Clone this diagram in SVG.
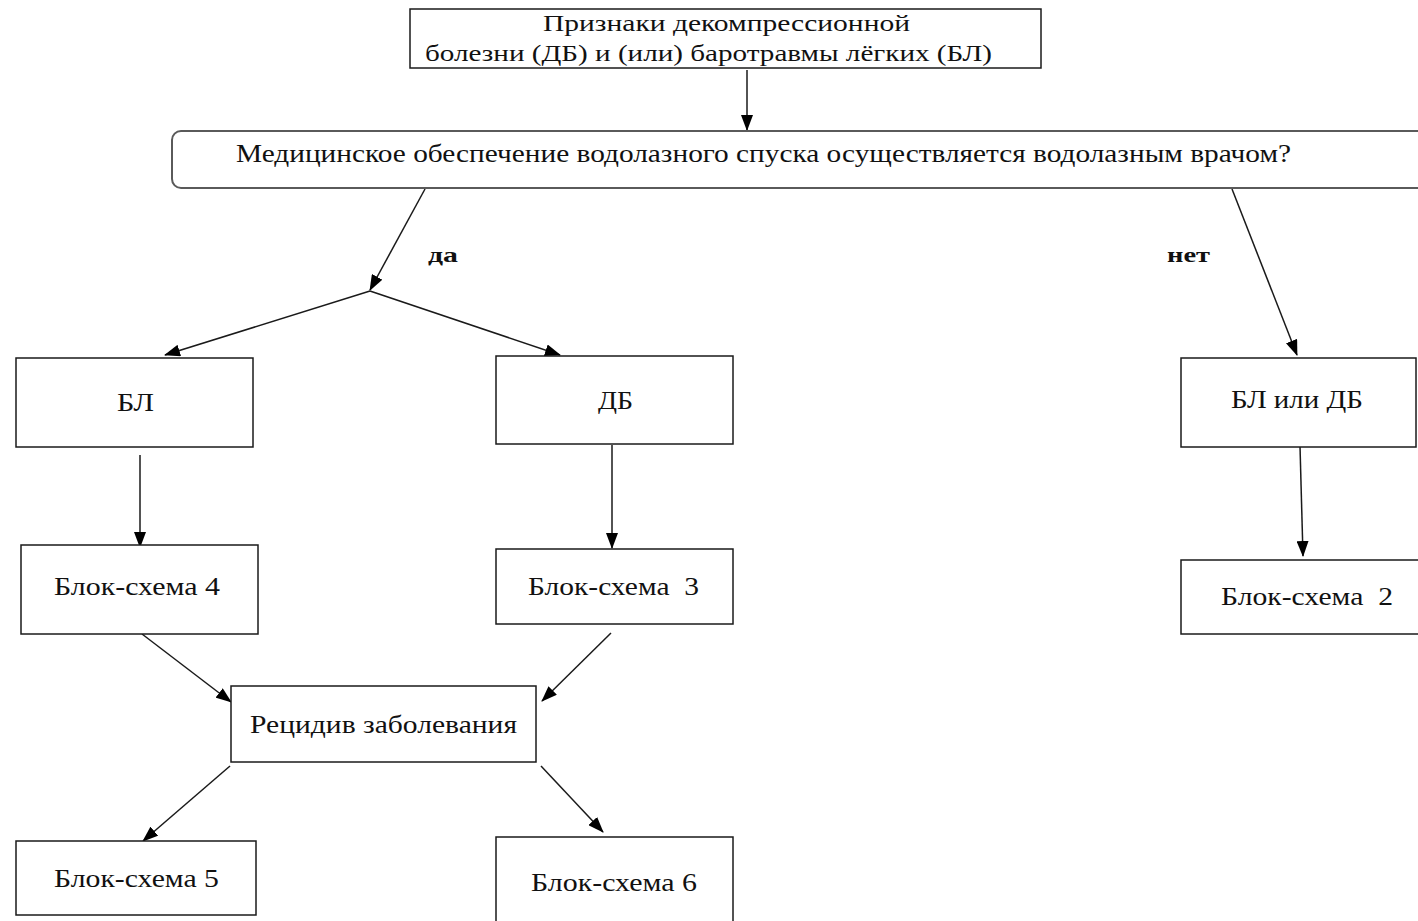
<svg xmlns="http://www.w3.org/2000/svg" width="1418" height="921" viewBox="0 0 1418 921">
  <style>
    .box { fill: #ffffff; stroke: #1a1a1a; stroke-width: 1.5; }
    .rbox { fill: #ffffff; stroke: #5a5a5a; stroke-width: 2; }
    .t { font-family: "Liberation Serif", "Times New Roman", serif; font-size: 26px; fill: #111111; }
    .t-head { font-size: 24px; }
    .t-q { font-size: 25px; }
    .lbl { font-family: "Liberation Serif", "Times New Roman", serif; font-size: 22px; font-weight: bold; fill: #111111; }
    .edge { fill: none; stroke: #1a1a1a; stroke-width: 1.5; marker-end: url(#arrow); }
  </style>
  <defs>
    <marker id="arrow" markerUnits="userSpaceOnUse" markerWidth="16" markerHeight="12" viewBox="0 0 16 12" refX="15" refY="6" orient="auto">
      <path d="M0,0 L16,6 L0,12 Z" fill="#000000"/>
    </marker>
  </defs>

  <rect width="1418" height="921" fill="#ffffff"/>

  <!-- connectors -->
  <g id="connectors">
    <line class="edge" x1="747" y1="70" x2="747" y2="130"/>
    <line class="edge" x1="425" y1="189" x2="370" y2="290"/>
    <line class="edge" x1="370" y1="291" x2="165" y2="355"/>
    <line class="edge" x1="370" y1="291" x2="560" y2="355"/>
    <line class="edge" x1="1232" y1="189" x2="1297" y2="355"/>
    <line class="edge" x1="140" y1="455" x2="140" y2="547"/>
    <line class="edge" x1="612" y1="445" x2="612" y2="548"/>
    <line class="edge" x1="1300" y1="446" x2="1303" y2="556"/>
    <line class="edge" x1="142" y1="634" x2="231" y2="702"/>
    <line class="edge" x1="611" y1="633" x2="542" y2="701"/>
    <line class="edge" x1="230" y1="766" x2="143" y2="841"/>
    <line class="edge" x1="541" y1="766" x2="603" y2="832"/>
    <text class="lbl" x="428" y="262" textLength="30" lengthAdjust="spacingAndGlyphs">да</text>
    <text class="lbl" x="1167" y="262" textLength="43" lengthAdjust="spacingAndGlyphs">нет</text>
  </g>

  <!-- nodes -->
  <g id="node-signs">
    <rect class="box" x="410" y="9" width="631" height="59"/>
    <text class="t t-head" x="543" y="31" textLength="367" lengthAdjust="spacingAndGlyphs">Признаки декомпрессионной</text>
    <text class="t t-head" x="425" y="61" textLength="567" lengthAdjust="spacingAndGlyphs">болезни (ДБ) и (или) баротравмы лёгких (БЛ)</text>
  </g>

  <g id="node-question">
    <rect class="rbox" x="172" y="131" width="1270" height="57" rx="9" ry="9"/>
    <text class="t t-q" x="236" y="162" textLength="1055" lengthAdjust="spacingAndGlyphs">Медицинское обеспечение водолазного спуска осуществляется водолазным врачом?</text>
  </g>

  <g id="node-bl">
    <rect class="box" x="16" y="358" width="237" height="89"/>
    <text class="t" x="117" y="411" textLength="37" lengthAdjust="spacingAndGlyphs">БЛ</text>
  </g>

  <g id="node-db">
    <rect class="box" x="496" y="356" width="237" height="88"/>
    <text class="t" x="598" y="409" textLength="35" lengthAdjust="spacingAndGlyphs">ДБ</text>
  </g>

  <g id="node-bl-or-db">
    <rect class="box" x="1181" y="358" width="235" height="89"/>
    <text class="t" x="1231" y="408" textLength="132" lengthAdjust="spacingAndGlyphs">БЛ или ДБ</text>
  </g>

  <g id="node-scheme4">
    <rect class="box" x="21" y="545" width="237" height="89"/>
    <text class="t" x="54" y="595" textLength="166" lengthAdjust="spacingAndGlyphs">Блок-схема 4</text>
  </g>

  <g id="node-scheme3">
    <rect class="box" x="496" y="549" width="237" height="75"/>
    <text class="t" x="528" y="595" textLength="171" lengthAdjust="spacingAndGlyphs" xml:space="preserve">Блок-схема  3</text>
  </g>

  <g id="node-scheme2">
    <rect class="box" x="1181" y="560" width="245" height="74"/>
    <text class="t" x="1221" y="605" textLength="172" lengthAdjust="spacingAndGlyphs" xml:space="preserve">Блок-схема  2</text>
  </g>

  <g id="node-relapse">
    <rect class="box" x="231" y="686" width="305" height="76"/>
    <text class="t" x="250" y="733" textLength="267" lengthAdjust="spacingAndGlyphs">Рецидив заболевания</text>
  </g>

  <g id="node-scheme5">
    <rect class="box" x="16" y="841" width="240" height="74"/>
    <text class="t" x="54" y="887" textLength="165" lengthAdjust="spacingAndGlyphs">Блок-схема 5</text>
  </g>

  <g id="node-scheme6">
    <rect class="box" x="496" y="837" width="237" height="90"/>
    <text class="t" x="531" y="891" textLength="166" lengthAdjust="spacingAndGlyphs">Блок-схема 6</text>
  </g>
</svg>
